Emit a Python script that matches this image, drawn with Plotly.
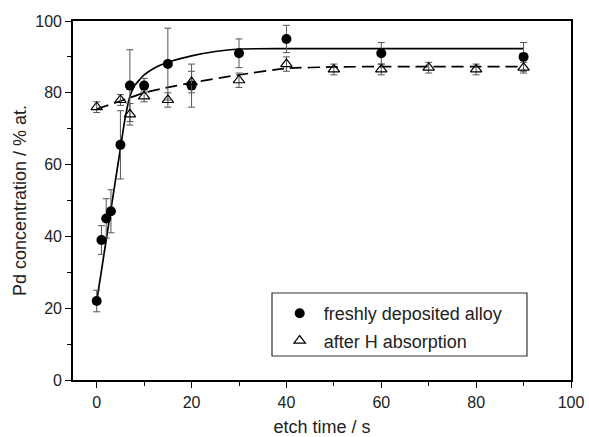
import plotly.graph_objects as go

# freshly deposited alloy
t_fresh = [0, 1, 2, 3, 5, 7, 10, 15, 20, 30, 40, 60, 90]
pd_fresh = [22, 39, 45, 47, 65.5, 82, 82, 88, 82, 91, 95, 91, 90]
err_fresh = [3, 4, 5.5, 6, 9.5, 10, 2, 10, 6, 4, 3.8, 3, 4]

# after H absorption
t_h = [0, 5, 7, 10, 15, 20, 30, 40, 50, 60, 70, 80, 90]
pd_h = [76, 78, 74, 79, 78, 83, 83.5, 88, 86.5, 86.5, 87, 86.5, 87]
err_h = [1.5, 1.5, 3, 1.5, 2, 3, 2, 2, 1.5, 1.5, 1.5, 1.5, 1.5]

# fitted curves
fit_fresh_t = [0, 1, 2, 3, 4, 5, 6, 7, 8, 10, 12, 15, 20, 25, 30, 40, 60, 90]
fit_fresh_y = [22, 30.5, 39, 47.5, 56, 64.5, 73, 79, 82, 85, 86.8, 88.5, 90.3, 91.5, 92.2, 92.3, 92.3, 92.3]
fit_h_t = [0, 5, 10, 15, 20, 30, 40, 50, 60, 90]
fit_h_y = [75.5, 77.7, 80, 81.5, 82.8, 85, 86.8, 87.2, 87.3, 87.3]

FONT = "Liberation Sans, Arial, sans-serif"

fig = go.Figure()
fig.add_trace(go.Scatter(x=fit_fresh_t, y=fit_fresh_y, mode="lines",
                         line=dict(color="black", width=1.7, shape="spline", smoothing=0.5),
                         showlegend=False, hoverinfo="skip"))
fig.add_trace(go.Scatter(x=fit_h_t, y=fit_h_y, mode="lines",
                         line=dict(color="black", width=1.7, dash="12px,6px", shape="spline", smoothing=0.5),
                         showlegend=False, hoverinfo="skip"))
fig.add_trace(go.Scatter(x=t_fresh, y=pd_fresh, mode="markers", name="freshly deposited alloy",
                         marker=dict(symbol="circle", size=10, color="black"),
                         error_y=dict(type="data", array=err_fresh, color="#555555", thickness=1, width=3.5),
                         legendgroup="a"))
fig.add_trace(go.Scatter(x=t_h, y=pd_h, mode="markers", name="after H absorption",
                         marker=dict(symbol="triangle-up-open", size=10, color="black", line=dict(width=1.2)),
                         error_y=dict(type="data", array=err_h, color="#555555", thickness=1, width=3.5),
                         legendgroup="b"))

axis_common = dict(showline=True, linecolor="black", linewidth=1.6, mirror=True,
                   ticks="outside", ticklen=6, tickwidth=1.3, tickcolor="black",
                   showgrid=False, zeroline=False, automargin=False,
                   tickfont=dict(family=FONT, size=16, color="#222"),
                   minor=dict(ticks="outside", ticklen=4, tickwidth=1, tickcolor="black"))

fig.update_xaxes(range=[-5, 100], tickvals=[0, 20, 40, 60, 80, 100], minor_dtick=10,
                 ticklabelstandoff=1,
                 title=dict(text="etch time / s", font=dict(family=FONT, size=18, color="#222"), standoff=18),
                 **axis_common)
fig.update_yaxes(range=[0, 100], tickvals=[0, 20, 40, 60, 80, 100], minor_dtick=10,
                 title=dict(text="Pd concentration / % at.", font=dict(family=FONT, size=18, color="#222"), standoff=4),
                 **axis_common)

fig.add_shape(type="rect", xref="paper", yref="paper",
              x0=0.3996, x1=0.9116, y0=0.0669, y1=0.2423,
              line=dict(color="#333", width=1.2), fillcolor="rgba(0,0,0,0)")

fig.update_layout(
    width=589, height=437,
    margin=dict(l=73, r=18, t=21, b=57),
    paper_bgcolor="white", plot_bgcolor="white",
    legend=dict(x=0.407, y=0.2368, xanchor="left", yanchor="top",
                borderwidth=0, bgcolor="rgba(0,0,0,0)", itemwidth=38,
                font=dict(family=FONT, size=18, color="#222"),
                traceorder="grouped", tracegroupgap=1),
)

fig.write_html("out.html")
